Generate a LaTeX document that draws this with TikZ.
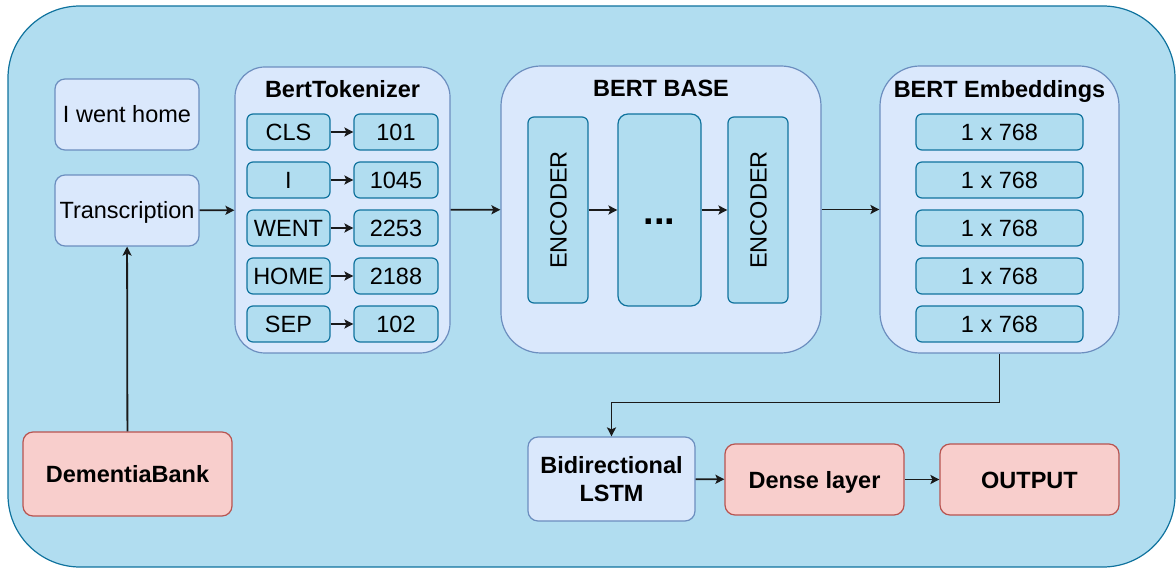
\documentclass[tikz,border=0pt]{standalone}
\usepackage{fontspec}
\setmainfont{Liberation Sans}
\usetikzlibrary{arrows.meta}

\definecolor{bgfill}{HTML}{B1DDF0}
\definecolor{bgline}{HTML}{10739E}
\definecolor{pfill}{HTML}{DAE8FC}
\definecolor{pline}{HTML}{6C8EBF}
\definecolor{rfill}{HTML}{F8CECC}
\definecolor{rline}{HTML}{B85450}
\definecolor{wire}{HTML}{1A1A1A}

\tikzset{
  base/.style={rectangle, inner sep=0pt, line width=1.2pt, align=center,
    font=\fontsize{23.5}{28}\selectfont},
  oneline/.style={text height=17pt, text depth=0pt},
  frame/.style={base, draw=bgline, fill=bgfill, rounded corners=72pt},
  panel/.style={base, draw=pline, fill=pfill, rounded corners=#1},
  panel/.default=10pt,
  cell/.style={base, oneline, draw=bgline, fill=bgfill, rounded corners=6pt},
  redbox/.style={base, oneline, draw=rline, fill=rfill, rounded corners=10pt, font=\fontsize{23.5}{28}\selectfont\bfseries},
  title/.style={inner sep=0pt, oneline, font=\fontsize{23.5}{28}\selectfont\bfseries},
  arr/.style={draw=wire, line width=1.8pt, -{Stealth[length=9pt,width=9pt,inset=2pt]}},
}

\begin{document}
\begin{tikzpicture}[x=1pt, y=-1pt]
\useasboundingbox (0,0) rectangle (1176,569);

% background frame
\node[frame, minimum width=1167, minimum height=561] (frame) at (591.5,286.5) {};

% input side
\node[panel, oneline, minimum width=144, minimum height=71] (went) at (127,114.5) {I went home};
\node[panel, oneline, minimum width=144, minimum height=71] (trans) at (127,210.5) {Transcription};
\node[redbox, minimum width=209, minimum height=84] (dem) at (127.5,474) {DementiaBank};

% tokenizer
\node[panel=30pt, minimum width=215, minimum height=286] (tok) at (342.5,210) {};
\node[title] (toktitle) at (342.5,89.5) {BertTokenizer};
\foreach \w/\n/\y [count=\i] in {CLS/101/132, I/1045/180, WENT/2253/228, HOME/2188/276, SEP/102/324}{
  \node[cell, minimum width=83, minimum height=36] (w\i) at (288.5,\y) {\w};
  \node[cell, minimum width=84, minimum height=36] (n\i) at (396,\y) {\n};
  \draw[arr] (w\i) -- (n\i);
}

% BERT base
\node[panel=40pt, minimum width=320, minimum height=287] (bert) at (661,209.5) {};
\node[title] (berttitle) at (661,88.5) {BERT BASE};
\node[cell, minimum width=60, minimum height=186] (enc1) at (558,210) {};
\node[rotate=90, inner sep=0pt, oneline, font=\fontsize{23.5}{28}\selectfont] (enc1text) at (enc1) {ENCODER};
\node[cell, rounded corners=10pt, minimum width=83, minimum height=192] (mid) at (659.5,210) {};
\node[inner sep=0pt, font=\fontsize{38}{44}\selectfont\bfseries] (dots) at (659.5,222) {...};
\node[cell, minimum width=60, minimum height=186] (enc2) at (758,210) {};
\node[rotate=90, inner sep=0pt, oneline, font=\fontsize{23.5}{28}\selectfont] (enc2text) at (enc2) {ENCODER};

% embeddings
\node[panel=40pt, minimum width=239, minimum height=287] (emb) at (999.5,209.5) {};
\node[title] (embtitle) at (999.5,89.5) {BERT Embeddings};
\foreach \y [count=\i] in {132,180,228,276,324}{
  \node[cell, minimum width=167, minimum height=36] (e\i) at (999.5,\y) {1 x 768};
}

% classifier head
\node[panel, minimum width=167, minimum height=84, font=\fontsize{23.5}{28}\selectfont\bfseries] (lstm) at (611.5,479) {Bidirectional\\LSTM};
\node[redbox, minimum width=179, minimum height=71] (dense) at (814.5,479.5) {Dense layer};
\node[redbox, minimum width=179, minimum height=71] (out) at (1029.5,479.5) {OUTPUT};

% connectors
\draw[arr] (dem) -- (trans);
\draw[arr] (trans) -- (tok);
\draw[arr] (tok) -- (bert);
\draw[arr] (enc1) -- (mid);
\draw[arr] (mid) -- (enc2);
\draw[arr] (bert) -- (emb);
\draw[arr] (emb.south) -- ++(0,49) -| (lstm.north);
\draw[arr] (lstm) -- (dense);
\draw[arr] (dense) -- (out);
\end{tikzpicture}
\end{document}
